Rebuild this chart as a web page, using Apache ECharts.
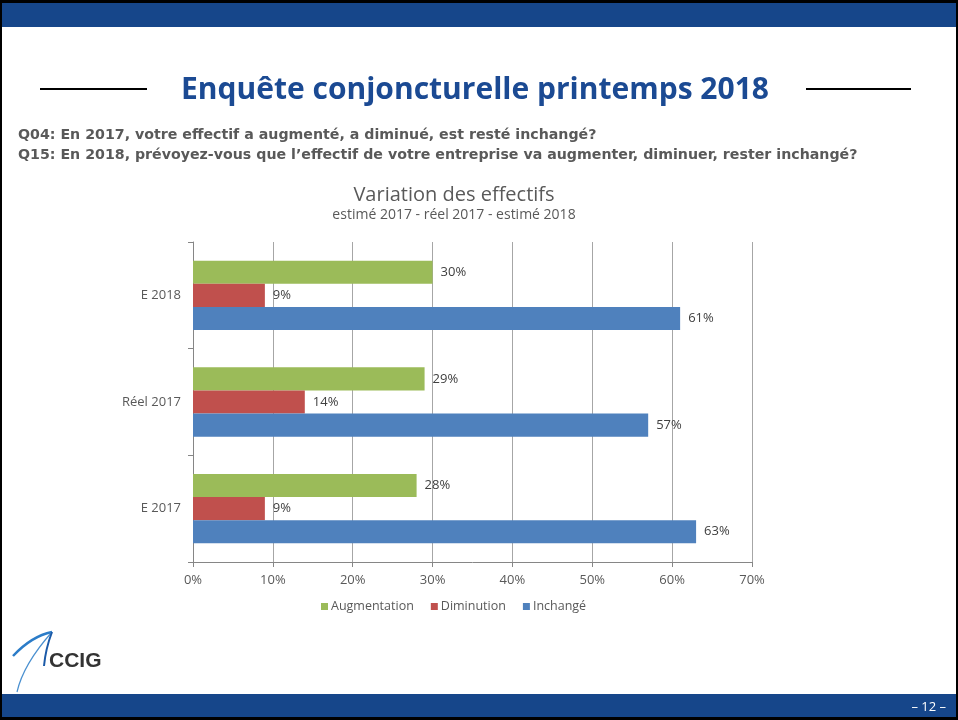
<!DOCTYPE html>
<html>
<head>
<meta charset="utf-8">
<script src="https://cdn.jsdelivr.net/npm/echarts@6/dist/echarts.min.js"></script>
<style>html,body{margin:0;padding:0;background:#fff}#c{width:958px;height:720px}</style>
</head>
<body>
<div id="c"></div>
<script>
var categories = ['E 2018', 'Réel 2017', 'E 2017'];
var seriesNames = ['Augmentation', 'Diminution', 'Inchangé'];
var augmentation = [30, 29, 28];
var diminution = [9, 14, 9];
var inchange = [61, 57, 63];
var xTicks = [0, 10, 20, 30, 40, 50, 60, 70];

var colors = ['#9BBB59', '#C0504D', '#4F81BD'];
var chart = echarts.init(document.getElementById('c'), null, {renderer: 'canvas'});
var font = '"Open Sans", "Noto Sans", sans-serif';
var labelCfg = {
  show: true, position: 'right', distance: 8,
  formatter: function (p) { return p.value + '%'; },
  color: '#404040', fontSize: 13, fontFamily: font
};
function mk(name, data, i) {
  return {
    name: name, type: 'bar', data: data, barGap: '0%', barCategoryGap: '35%',
    itemStyle: {color: colors[i]}, label: labelCfg, animation: false
  };
}
chart.setOption({
  animation: false,
  textStyle: {fontFamily: font},
  title: [{
    text: 'Variation des effectifs',
    subtext: 'estimé 2017 - réel 2017 - estimé 2018',
    left: 449, textAlign: 'center', top: 180,
    textStyle: {fontSize: 20, fontWeight: 'normal', color: '#595959', fontFamily: font},
    subtextStyle: {fontSize: 14, color: '#595959', fontFamily: font},
    itemGap: 3
  }],
  legend: {
    data: seriesNames, bottom: 102, left: 316,
    itemWidth: 7, itemHeight: 7, itemGap: 17, icon: 'rect',
    textStyle: {fontSize: 12.5, color: '#595959', fontFamily: font, padding: [0, 0, 0, -2]}
  },
  grid: {left: 193, right: 958 - 752, top: 242, bottom: 720 - 562, containLabel: false},
  xAxis: {
    type: 'value', min: 0, max: 70, interval: 10,
    data: xTicks,
    axisLabel: {formatter: '{value}%', color: '#595959', fontSize: 13, margin: 12},
    axisLine: {show: true, lineStyle: {color: '#868686'}},
    axisTick: {show: true, length: 5, lineStyle: {color: '#868686'}},
    splitLine: {show: true, lineStyle: {color: '#A6A6A6'}}
  },
  yAxis: {
    type: 'category', data: categories, inverse: true,
    axisLabel: {color: '#595959', fontSize: 13, margin: 12},
    axisLine: {show: true, lineStyle: {color: '#868686'}},
    axisTick: {show: true, length: 5, lineStyle: {color: '#868686'}}
  },
  series: [mk(seriesNames[0], augmentation, 0), mk(seriesNames[1], diminution, 1), mk(seriesNames[2], inchange, 2)],
  graphic: [
    {type: 'rect', shape: {x: 0, y: 0, width: 958, height: 720}, style: {fill: '#000'}, z: -10},
    {type: 'rect', shape: {x: 2, y: 3, width: 954, height: 714}, style: {fill: '#fff'}, z: -9},
    {type: 'rect', shape: {x: 2, y: 3, width: 954, height: 24}, style: {fill: '#16468A'}, z: -8},
    {type: 'rect', shape: {x: 2, y: 694, width: 954, height: 23}, style: {fill: '#16468A'}, z: -8},
    {type: 'text', x: 946, y: 707, style: {text: '– 12 –', fill: '#fff', font: '13px ' + font, textAlign: 'right', textVerticalAlign: 'middle'}},
    {type: 'line', shape: {x1: 40, y1: 89, x2: 147, y2: 89}, style: {stroke: '#000', lineWidth: 2}},
    {type: 'line', shape: {x1: 806, y1: 89, x2: 911, y2: 89}, style: {stroke: '#000', lineWidth: 2}},
    {type: 'text', x: 475, y: 90, style: {text: 'Enquête conjoncturelle printemps 2018', fill: '#1B4A93', font: 'bold 30px "Open Sans", sans-serif', textAlign: 'center', textVerticalAlign: 'middle'}},
    {type: 'text', x: 18, y: 135, style: {text: 'Q04: En 2017, votre effectif a augmenté, a diminué, est resté inchangé?', fill: '#595959', font: 'bold 14.2px "DejaVu Sans", sans-serif', textVerticalAlign: 'middle'}},
    {type: 'text', x: 18, y: 155, style: {text: 'Q15: En 2018, prévoyez-vous que l’effectif de votre entreprise va augmenter, diminuer, rester inchangé?', fill: '#595959', font: 'bold 14.2px "DejaVu Sans", sans-serif', textVerticalAlign: 'middle'}},
    {type: 'bezierCurve', shape: {x1: 13, y1: 656, x2: 52, y2: 632, cpx1: 28, cpy1: 640, cpx2: 42, cpy2: 634}, style: {stroke: '#2B7CC8', lineWidth: 2.5, fill: null}},
    {type: 'bezierCurve', shape: {x1: 52, y1: 632, x2: 17, y2: 692, cpx1: 36, cpy1: 650, cpx2: 22, cpy2: 670}, style: {stroke: '#4A90D0', lineWidth: 1.2, fill: null}},
    {type: 'bezierCurve', shape: {x1: 52, y1: 632, x2: 44, y2: 666, cpx1: 47, cpy1: 645, cpx2: 45, cpy2: 655}, style: {stroke: '#1B5AA8', lineWidth: 2, fill: null}},
    {type: 'text', x: 49, y: 661, style: {text: 'CCIG', fill: '#333', font: 'bold 21px "Liberation Sans Narrow", "Liberation Sans", sans-serif', textVerticalAlign: 'middle'}}
  ]
});
</script>
</body>
</html>
